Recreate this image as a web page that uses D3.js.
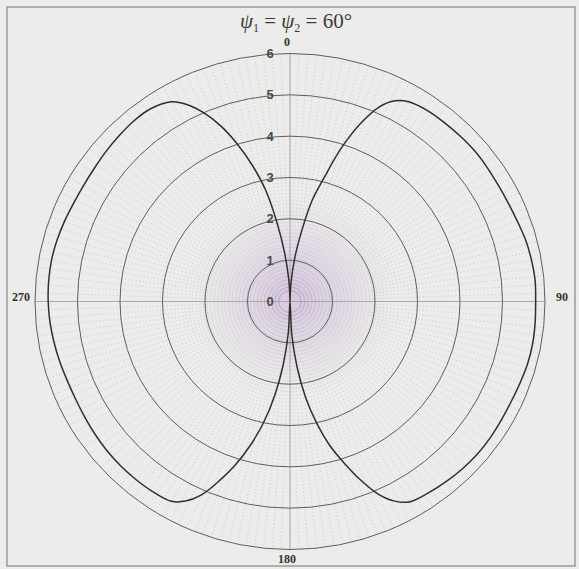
<!DOCTYPE html>
<html>
<head>
<meta charset="utf-8">
<script src="https://cdn.jsdelivr.net/npm/d3@7"></script>
<style>
  html, body { margin: 0; padding: 0; background: #ececea; }
  svg { display: block; }
</style>
</head>
<body>
<script>
// Sampled polar angles (degrees) for each lobe, measured from the top going clockwise
const lobeAngles = [0, 3, 6, 9, 12, 15, 18, 21, 24, 27, 30, 35, 40, 45, 50, 55, 60, 65, 70, 75,
  80, 85, 90, 95, 100, 105, 110, 115, 120, 125, 130, 135, 140, 145, 150, 153, 156, 159, 162,
  165, 168, 171, 174, 177, 180];

// Radius of the right-hand lobe at theta = lobeAngles[i]
const rightLobe = [0, 0.45, 1.05, 1.7, 2.5, 3.1, 3.9, 4.6, 5.15, 5.45, 5.58, 5.64, 5.65, 5.66,
  5.67, 5.66, 5.65, 5.66, 5.69, 5.74, 5.77, 5.79, 5.78, 5.79, 5.8, 5.79, 5.76, 5.74, 5.74, 5.75,
  5.75, 5.73, 5.7, 5.66, 5.6, 5.42, 5.1, 4.62, 4.1, 3.6, 3.0, 2.35, 1.6, 0.8, 0];

// Radius of the left-hand lobe at theta = 360 - lobeAngles[i]
const leftLobe = [0, 0.5, 1.15, 1.9, 2.75, 3.4, 4.0, 4.55, 5.0, 5.35, 5.58, 5.7, 5.71, 5.68,
  5.65, 5.62, 5.61, 5.62, 5.65, 5.68, 5.7, 5.7, 5.69, 5.67, 5.64, 5.61, 5.58, 5.57, 5.58, 5.6,
  5.62, 5.63, 5.63, 5.62, 5.58, 5.42, 5.12, 4.65, 4.15, 3.6, 3.0, 2.3, 1.55, 0.75, 0];

const ringTicks = [0, 1, 2, 3, 4, 5, 6];
const angleTicks = [0, 90, 180, 270];

const W = 579, H = 569;
const cx = 290, cy = 301.5;

const svg = d3.select("body").append("svg")
  .attr("width", W).attr("height", H);

// Radial scales (the printed disk is slightly wider than tall)
const rx = d3.scaleLinear().domain([0, 6]).range([0, 255]);
const ry = d3.scaleLinear().domain([0, 6]).range([0, 248]);
const rad = d3.scaleLinear().domain([0, 360]).range([0, 2 * Math.PI]);
const px = (a, r) => cx + rx(r) * Math.sin(rad(a));
const py = (a, r) => cy - ry(r) * Math.cos(rad(a));

// Paper background
svg.append("rect").attr("width", W).attr("height", H).attr("fill", "#ececea");

const defs = svg.append("defs");
const haze = defs.append("radialGradient").attr("id", "centreTint");
haze.append("stop").attr("offset", "0%").attr("stop-color", "#c4a6d8").attr("stop-opacity", 0.55);
haze.append("stop").attr("offset", "55%").attr("stop-color", "#cdb8dc").attr("stop-opacity", 0.28);
haze.append("stop").attr("offset", "100%").attr("stop-color", "#d8d0e0").attr("stop-opacity", 0);

// Frame
svg.append("rect")
  .attr("x", 7).attr("y", 7).attr("width", 568).attr("height", 559)
  .attr("fill", "none").attr("stroke", "#8e8e8e").attr("stroke-width", 1.3);

// Dense dotted spokes
const spokes = svg.append("g").attr("class", "spokes");
spokes.selectAll("line")
  .data(d3.range(0, 360, 2))
  .join("line")
  .attr("x1", d => px(d, 0.25)).attr("y1", d => py(d, 0.25))
  .attr("x2", d => px(d, 6)).attr("y2", d => py(d, 6))
  .attr("stroke", "#8c8c8c")
  .attr("stroke-width", 0.6)
  .attr("stroke-dasharray", "1 2.6")
  .attr("opacity", 0.6);

// Centre tint
svg.append("ellipse")
  .attr("cx", cx + 4).attr("cy", cy - 6)
  .attr("rx", rx(2.4)).attr("ry", ry(2.4))
  .attr("fill", "url(#centreTint)");

// Main axes
svg.append("g").selectAll("line")
  .data(angleTicks)
  .join("line")
  .attr("x1", cx).attr("y1", cy)
  .attr("x2", d => px(d, 6)).attr("y2", d => py(d, 6))
  .attr("stroke", "#9a9a9a").attr("stroke-width", 0.8);

// Range rings
svg.append("g").selectAll("ellipse")
  .data(ringTicks.filter(d => d > 0))
  .join("ellipse")
  .attr("cx", cx).attr("cy", cy)
  .attr("rx", d => rx(d)).attr("ry", d => ry(d))
  .attr("fill", "none")
  .attr("stroke", "#5e5e5e")
  .attr("stroke-width", 1);

// Pattern curve: right lobe 0..180, then left lobe 180..360
const pts = lobeAngles.map((a, i) => [a, rightLobe[i]])
  .concat(lobeAngles.map((a, i) => [360 - a, leftLobe[i]]).reverse().slice(1));

const line = d3.line()
  .x(d => px(d[0], d[1]))
  .y(d => py(d[0], d[1]))
  .curve(d3.curveCatmullRom.alpha(0.5));

svg.append("path")
  .datum(pts)
  .attr("d", line)
  .attr("fill", "none")
  .attr("stroke", "#2f2f2f")
  .attr("stroke-width", 1.5)
  .attr("stroke-linejoin", "round");

// Ring labels along the zero direction
svg.append("g").selectAll("text")
  .data(ringTicks)
  .join("text")
  .attr("x", cx - 20)
  .attr("y", d => cy - ry(d) + 4.5)
  .attr("text-anchor", "middle")
  .attr("font-family", "Liberation Sans, Arial, sans-serif")
  .attr("font-weight", "bold")
  .attr("font-size", 13)
  .attr("fill", "#4a4a4a")
  .text(d => d);

// Angle labels
const angleLabelPos = {
  0: [cx - 3, 46],
  90: [562, 301],
  180: [cx - 3, 563],
  270: [21, 301]
};
svg.append("g").selectAll("text")
  .data(angleTicks)
  .join("text")
  .attr("x", d => angleLabelPos[d][0])
  .attr("y", d => angleLabelPos[d][1])
  .attr("text-anchor", "middle")
  .attr("font-family", "Liberation Serif, Times New Roman, serif")
  .attr("font-weight", "bold")
  .attr("font-size", 12)
  .attr("fill", "#333")
  .text(d => d);

// Title
const title = svg.append("text")
  .attr("x", 296).attr("y", 28)
  .attr("text-anchor", "middle")
  .attr("font-family", "Liberation Serif, Times New Roman, serif")
  .attr("font-size", 21)
  .attr("fill", "#3c3c3c");
title.append("tspan").attr("font-style", "italic").text("ψ");
title.append("tspan").attr("font-size", 12).attr("dy", 4).text("1");
title.append("tspan").attr("dy", -4).text(" = ");
title.append("tspan").attr("font-style", "italic").text("ψ");
title.append("tspan").attr("font-size", 12).attr("dy", 4).text("2");
title.append("tspan").attr("dy", -4).text(" = 60°");
</script>
</body>
</html>
